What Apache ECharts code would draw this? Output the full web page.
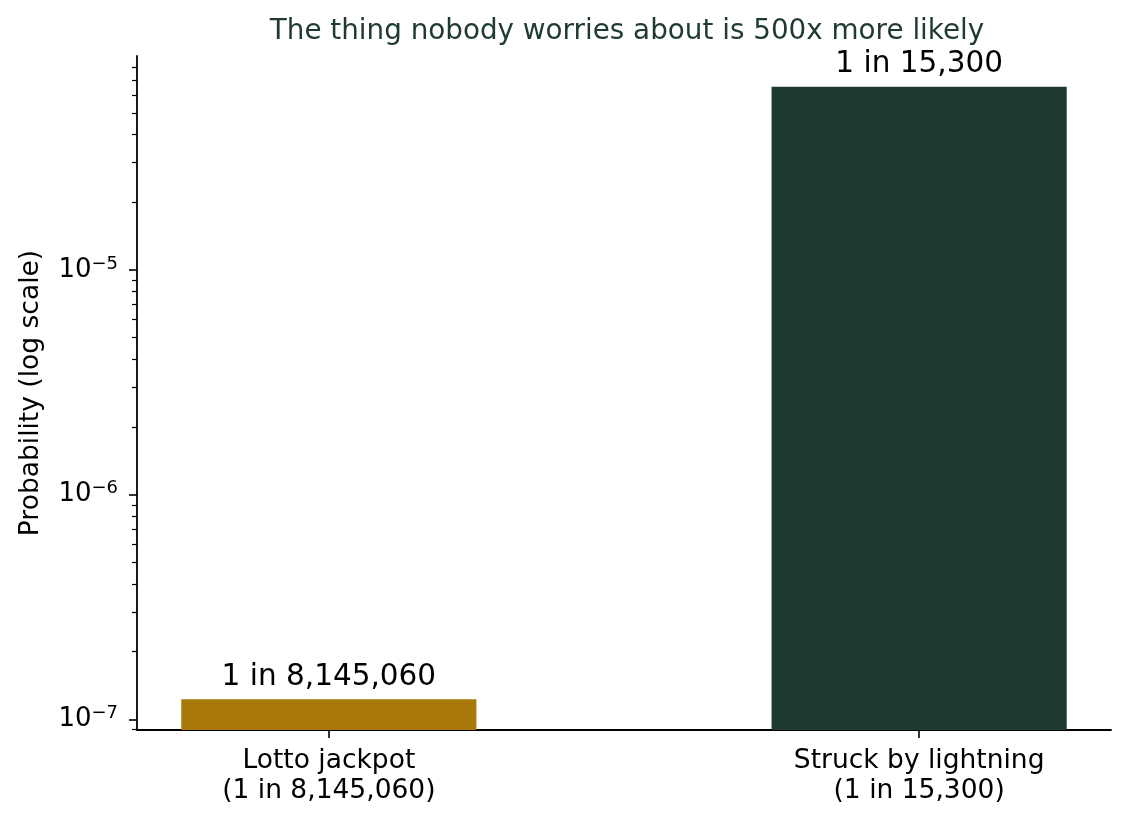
<!DOCTYPE html>
<html>
<head>
<meta charset="utf-8">
<script src="https://cdn.jsdelivr.net/npm/echarts@6/dist/echarts.min.js"></script>
<style>
  html, body { margin: 0; padding: 0; background: #fff; }
  #chart { width: 1130px; height: 825px; }
</style>
</head>
<body>
<div id="chart"></div>
<script>
// 数据
var categories = ['Lotto jackpot\n(1 in 8,145,060)', 'Struck by lightning\n(1 in 15,300)']
var oneIn = [8145060, 15300]
var barLabels = ['1 in 8,145,060', '1 in 15,300']
var barColors = ['#a8780b', '#1f3a2f']
var majorTicks = [1e-7, 1e-6, 1e-5]

var probs = oneIn.map(function (n) { return 1 / n })

// 轴范围 (log 空间留 5% 边距)
var logLo = Math.log10(Math.min.apply(null, probs))
var logHi = Math.log10(Math.max.apply(null, probs))
var pad = (logHi - logLo) * 0.05
var yMin = Math.pow(10, logLo - pad)
var yMax = Math.pow(10, logHi + pad)

// 次刻度
var minorTicks = []
for (var d = -8; d <= -4; d++) {
    for (var m = 2; m <= 9; m++) {
        var v = m * Math.pow(10, d)
        if (v >= yMin && v <= yMax) minorTicks.push(v)
    }
}

var font = 'DejaVu Sans'

function supLabel (val) {
    var e = Math.round(Math.log10(val))
    return '{b|10}{s|' + (e < 0 ? '\u2212' + (-e) : e) + '}'
}

var myChart = echarts.init(document.getElementById('chart'))
var option = {
    animation: false,
    title: {
        text: 'The thing nobody worries about is 500x more likely',
        left: 622,
        textAlign: 'center',
        top: 13,
        textStyle: { fontFamily: font, fontSize: 27.8, fontWeight: 'normal', color: '#1f3a2f' }
    },
    grid: { left: 137, right: 19, top: 56, bottom: 95 },
    xAxis: {
        type: 'value',
        min: -0.325,
        max: 1.325,
        splitLine: { show: false },
        axisLine: { onZero: false, lineStyle: { color: '#000', width: 1.8 } },
        axisTick: { customValues: [0, 1], length: 8, lineStyle: { color: '#000', width: 1.6 } },
        axisLabel: {
            customValues: [0, 1],
            margin: 16,
            fontFamily: font,
            fontSize: 26.5,
            lineHeight: 30,
            color: '#000',
            formatter: function (v) { return categories[Math.round(v)] }
        }
    },
    yAxis: [
        {
            type: 'log',
            logBase: 10,
            min: yMin,
            max: yMax,
            name: 'Probability (log scale)',
            nameLocation: 'middle',
            nameRotate: 90,
            nameGap: 92,
            nameTextStyle: { fontFamily: font, fontSize: 26.5, color: '#000' },
            splitLine: { show: false },
            axisLine: { onZero: false, lineStyle: { color: '#000', width: 1.8 } },
            axisTick: { customValues: majorTicks, length: 8, lineStyle: { color: '#000', width: 1.6 } },
            axisLabel: {
                customValues: majorTicks,
                margin: 19,
                formatter: supLabel,
                rich: {
                    b: { fontFamily: font, fontSize: 26, color: '#000' },
                    s: { fontFamily: font, fontSize: 18, color: '#000', padding: [0, 0, 12, 0] }
                }
            }
        },
        {
            type: 'log',
            logBase: 10,
            min: yMin,
            max: yMax,
            position: 'left',
            splitLine: { show: false },
            axisLine: { show: false, onZero: false },
            axisTick: { customValues: minorTicks, length: 5, lineStyle: { color: '#000', width: 1.2 } },
            axisLabel: { show: false }
        }
    ],
    series: [
        {
            type: 'custom',
            clip: false,
            data: probs.map(function (p, i) { return [i, p] }),
            renderItem: function (params, api) {
                var x = api.value(0)
                var topLeft = api.coord([x - 0.25, api.value(1)])
                var botRight = api.coord([x + 0.25, yMin])
                return {
                    type: 'rect',
                    shape: {
                        x: topLeft[0],
                        y: topLeft[1],
                        width: botRight[0] - topLeft[0],
                        height: botRight[1] - topLeft[1]
                    },
                    style: { fill: barColors[params.dataIndex] },
                    textContent: {
                        style: {
                            text: barLabels[params.dataIndex],
                            fontFamily: font,
                            fontSize: 29.5,
                            fill: '#000'
                        }
                    },
                    textConfig: { position: 'top', distance: 7 }
                }
            }
        }
    ]
}
myChart.setOption(option)
</script>
</body>
</html>
